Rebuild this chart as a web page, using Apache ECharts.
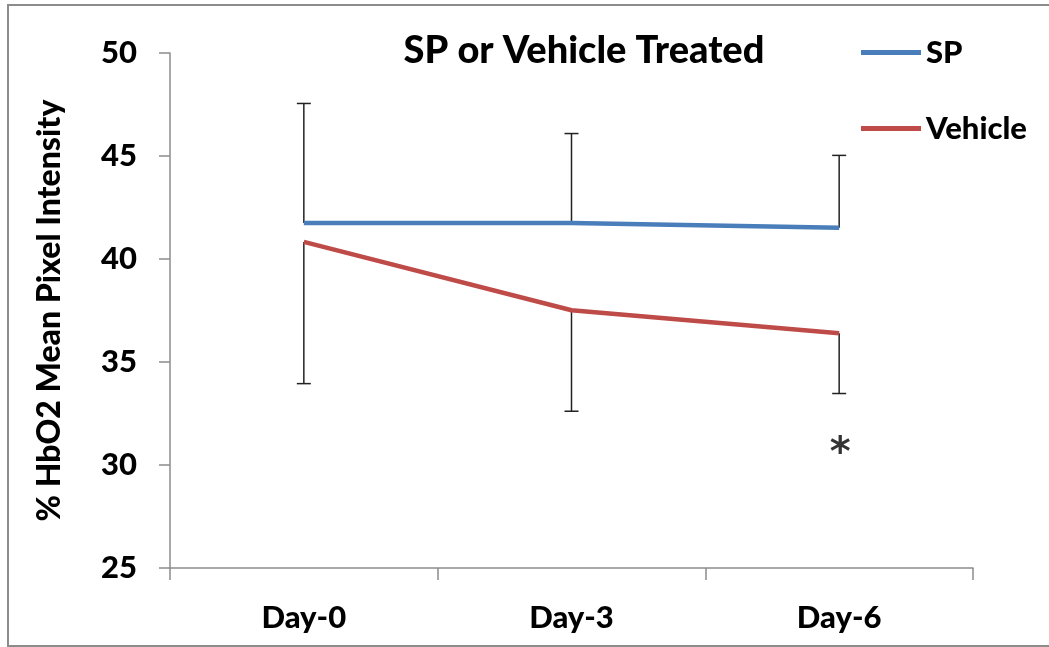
<!DOCTYPE html>
<html>
<head>
<meta charset="utf-8">
<script src="https://cdn.jsdelivr.net/npm/echarts@6/dist/echarts.min.js"></script>
<style>
  html, body { margin: 0; padding: 0; background: #fff; }
  #chart { width: 1049px; height: 647px; }
</style>
</head>
<body>
<div id="chart"></div>
<script>
var days = ['Day-0', 'Day-3', 'Day-6']
var spMean = [41.75, 41.75, 41.52]
var spUpper = [47.55, 46.09, 45.03]
var vehicleMean = [40.83, 37.51, 36.4]
var vehicleLower = [33.95, 32.61, 33.47]
// significance mark under Day-6
var starPoint = [2, 30.9]

var font = 'Lato'
var weight = 900
var dom = echarts.init(document.getElementById('chart'))

function errorBar(means, ends, color) {
    var data = means.map(function (m, i) { return [i, m, ends[i]] })
    return {
        type: 'custom',
        silent: true,
        z: 1,
        data: data,
        renderItem: function (params, api) {
            var p0 = api.coord([api.value(0), api.value(1)])
            var p1 = api.coord([api.value(0), api.value(2)])
            var half = 7
            var style = { stroke: color, lineWidth: 1.5 }
            return {
                type: 'group',
                children: [
                    { type: 'line', shape: { x1: p0[0], y1: p0[1], x2: p1[0], y2: p1[1] }, style: style },
                    { type: 'line', shape: { x1: p1[0] - half, y1: p1[1], x2: p1[0] + half, y2: p1[1] }, style: style }
                ]
            }
        }
    }
}

var option = {
    animation: false,
    graphic: [
        {
            type: 'rect',
            shape: { x: 8, y: 5, width: 1060, height: 641 },
            style: { fill: 'none', stroke: '#8c8c8c', lineWidth: 2 }
        },
        {
            type: 'text',
            x: 584, y: 51,
            style: {
                text: 'SP or Vehicle Treated',
                font: weight + ' 38px ' + font,
                fill: '#000',
                align: 'center',
                verticalAlign: 'middle'
            }
        }
    ],
    legend: {
        orient: 'vertical',
        left: 861,
        top: 37,
        padding: 0,
        icon: 'rect',
        itemWidth: 60,
        itemHeight: 5,
        itemGap: 45,
        textStyle: { fontFamily: font, fontWeight: weight, fontSize: 31, color: '#000', lineHeight: 30 },
        data: ['SP', 'Vehicle']
    },
    grid: { left: 170, right: 76, top: 53, bottom: 79 },
    xAxis: {
        type: 'category',
        data: days,
        boundaryGap: true,
        axisLine: { lineStyle: { color: '#8c8c8c', width: 1.5 } },
        axisTick: { show: true, length: 12, lineStyle: { color: '#8c8c8c', width: 1.5 } },
        axisLabel: { margin: 34, fontFamily: font, fontWeight: weight, fontSize: 31, color: '#000' }
    },
    yAxis: {
        type: 'value',
        min: 25,
        max: 50,
        interval: 5,
        name: '% HbO2 Mean Pixel Intensity',
        nameLocation: 'middle',
        nameGap: 104,
        nameRotate: 90,
        nameTextStyle: { fontFamily: font, fontWeight: weight, fontSize: 32, color: '#000' },
        splitLine: { show: false },
        axisLine: { show: true, lineStyle: { color: '#8c8c8c', width: 1.5 } },
        axisTick: { show: true, length: 11, lineStyle: { color: '#8c8c8c', width: 1.5 } },
        axisLabel: { margin: 33, fontFamily: font, fontWeight: weight, fontSize: 31, color: '#000' }
    },
    series: [
        errorBar(spMean, spUpper, '#222'),
        errorBar(vehicleMean, vehicleLower, '#222'),
        {
            name: 'SP',
            type: 'line',
            data: spMean,
            symbol: 'none',
            z: 3,
            itemStyle: { color: '#4a7ebb' },
            lineStyle: { color: '#4a7ebb', width: 4.5 }
        },
        {
            name: 'Vehicle',
            type: 'line',
            data: vehicleMean,
            symbol: 'none',
            z: 3,
            itemStyle: { color: '#be4b48' },
            lineStyle: { color: '#be4b48', width: 4.5 }
        },
        {
            type: 'scatter',
            data: [starPoint],
            symbolSize: 0,
            silent: true,
            label: {
                show: true,
                position: 'inside',
                formatter: '*',
                fontFamily: 'DejaVu Sans',
                fontWeight: 'bold',
                fontSize: 40,
                color: '#000',
                offset: [1, 8]
            }
        }
    ]
}

dom.setOption(option)
</script>
</body>
</html>
